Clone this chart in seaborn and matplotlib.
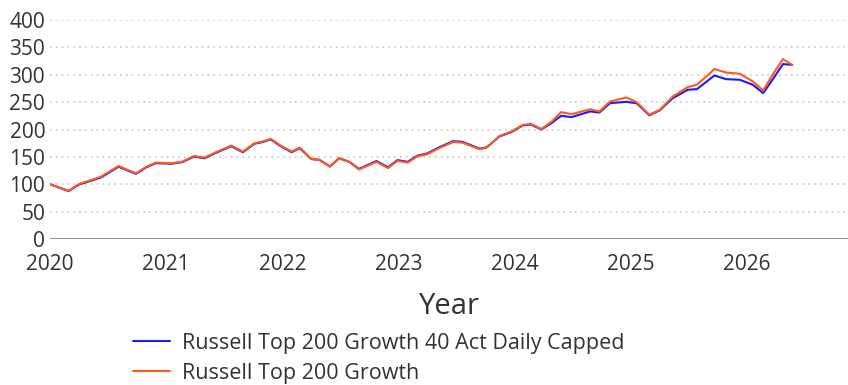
import matplotlib
matplotlib.use("Agg")
import matplotlib.pyplot as plt
import seaborn as sns
import pandas as pd

# Decimal-year dates of each observation
dates = [
    2020.00, 2020.16, 2020.25, 2020.34, 2020.44, 2020.51, 2020.59, 2020.67,
    2020.74, 2020.83, 2020.91, 2021.05, 2021.14, 2021.24, 2021.33, 2021.43,
    2021.56, 2021.66, 2021.76, 2021.83, 2021.90, 2021.99, 2022.08, 2022.15,
    2022.25, 2022.32, 2022.41, 2022.49, 2022.58, 2022.66, 2022.81, 2022.91,
    2022.99, 2023.08, 2023.16, 2023.25, 2023.35, 2023.47, 2023.55, 2023.70,
    2023.76, 2023.87, 2023.97, 2024.07, 2024.14, 2024.23, 2024.32, 2024.40,
    2024.49, 2024.65, 2024.73, 2024.82, 2024.96, 2025.05, 2025.16, 2025.25,
    2025.36, 2025.49, 2025.57, 2025.72, 2025.82, 2025.94, 2026.05, 2026.14,
    2026.23, 2026.31, 2026.39,
]

# Russell Top 200 Growth 40 Act Daily Capped (growth of 100)
capped = [
    100.0, 87.5, 99.5, 105.5, 112.5, 121.5, 132.0, 125.0,
    119.0, 131.0, 138.5, 137.5, 140.5, 150.5, 147.5, 157.5,
    169.5, 158.5, 174.0, 177.0, 182.0, 169.0, 158.5, 166.0,
    146.0, 144.5, 132.5, 147.5, 140.5, 128.0, 142.5, 131.0,
    144.0, 141.0, 152.0, 156.5, 167.5, 178.5, 177.5, 165.0,
    167.5, 187.5, 195.0, 207.5, 209.0, 200.0, 212.0, 225.0,
    222.6, 233.0, 231.0, 248.0, 250.6, 248.0, 226.0, 235.0,
    257.0, 272.5, 273.8, 298.7, 292.0, 290.8, 281.7, 266.5,
    294.0, 319.5, 318.0,
]

# Russell Top 200 Growth (growth of 100)
growth = [
    100.0, 88.0, 100.6, 106.7, 114.0, 123.0, 133.5, 126.0,
    120.0, 132.0, 139.6, 138.4, 141.4, 151.8, 148.7, 158.6,
    170.7, 159.7, 175.0, 178.0, 183.0, 170.0, 159.7, 167.0,
    146.3, 144.5, 132.3, 147.6, 140.3, 127.0, 141.0, 129.5,
    142.6, 139.6, 150.6, 155.0, 166.0, 177.0, 176.0, 164.0,
    167.0, 188.0, 196.0, 208.5, 210.0, 201.0, 214.6, 231.7,
    228.0, 237.0, 233.0, 251.0, 258.5, 250.0, 227.0, 236.0,
    260.0, 277.5, 281.7, 310.4, 304.0, 301.8, 287.8, 271.3,
    303.0, 328.7, 318.0,
]

series_names = ["Russell Top 200 Growth 40 Act Daily Capped", "Russell Top 200 Growth"]
series_colors = ["#1a1aff", "#ff5a1a"]

year_ticks = [2020, 2021, 2022, 2023, 2024, 2025, 2026]
value_ticks = [0, 50, 100, 150, 200, 250, 300, 350, 400]

df = pd.concat([
    pd.DataFrame({"Year": dates, "Value": capped, "Index": series_names[0]}),
    pd.DataFrame({"Year": dates, "Value": growth, "Index": series_names[1]}),
])

sns.set_theme(style="white")
plt.rcParams["font.family"] = ["Open Sans", "DejaVu Sans"]

fig = plt.figure(figsize=(8.48, 3.85), dpi=100)
ax = fig.add_axes([50 / 848, 1 - 239 / 385, 1 - 50 / 848, (239 - 20) / 385])

sns.lineplot(
    data=df, x="Year", y="Value", hue="Index",
    palette=dict(zip(series_names, series_colors)),
    linewidth=1.5, ax=ax, legend=True, sort=False,
)

ax.set_xlim(2020, 2026.87)
ax.set_ylim(0, 400)
ax.set_xticks(year_ticks)
ax.set_xticklabels([str(y) for y in year_ticks])
ax.set_yticks(value_ticks)
ax.set_yticklabels([str(v) for v in value_ticks])
ax.tick_params(axis="both", labelsize=15, labelcolor="#333333", length=0)
ax.tick_params(axis="y", pad=3.5)
ax.tick_params(axis="x", pad=11)

for v in value_ticks[1:]:
    ax.axhline(v, color="#c8c8c8", linewidth=1.2, linestyle=(0, (1, 2.5)), zorder=0)
ax.axhline(0, color="#8a8a8a", linewidth=2, zorder=1)

for s in ax.spines.values():
    s.set_visible(False)

ax.set_ylabel("")
ax.set_xlabel("Year", fontsize=21, color="#333333", labelpad=12)

handles, labels = ax.get_legend_handles_labels()
ax.get_legend().remove()
fig.legend(
    handles, labels, loc="upper left", bbox_to_anchor=(124 / 848, 1 - 324 / 385),
    frameon=False, fontsize=15.5, labelcolor="#333333", handlelength=1.75,
    handletextpad=0.55, labelspacing=0.42, borderaxespad=0,
)

fig.savefig("out.png", dpi=100)
